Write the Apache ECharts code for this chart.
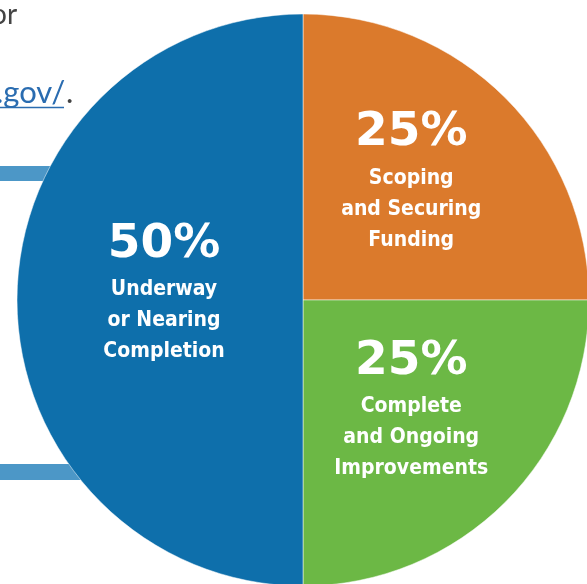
<!DOCTYPE html>
<html>
<head>
<meta charset="utf-8">
<script src="https://cdn.jsdelivr.net/npm/echarts@6/dist/echarts.min.js"></script>
<style>
  html, body { margin: 0; padding: 0; background: #fff; }
  #chart { width: 587px; height: 584px; }
</style>
</head>
<body>
<div id="chart"></div>
<script>
// status share of projects
const categories = ['Scoping and Securing Funding', 'Complete and Ongoing Improvements', 'Underway or Nearing Completion']
const labelLines = [
  ['Scoping', 'and Securing', 'Funding'],
  ['Complete', 'and Ongoing', 'Improvements'],
  ['Underway', 'or Nearing', 'Completion']
]
const values = [25, 25, 50]
const colors = ['#db7a2c', '#6cb845', '#0e6fab']
// nudge of each label block from the default inside spot
const labelShift = [[5, -17], [5, 5], [7, -9]]

const chart = echarts.init(document.getElementById('chart'))

const pieData = categories.map(function (name, i) {
  return {
    name: name,
    value: values[i],
    itemStyle: { color: colors[i] },
    label: {
      formatter: '{p|{d}%}\n' + labelLines[i].map(function (t) { return '{t|' + t + '}' }).join('\n')
    }
  }
})

chart.setOption({
  animation: false,
  // bits of the page around the chart
  graphic: [
    { type: 'rect', z: 0, shape: { x: 0, y: 166, width: 110, height: 15 }, style: { fill: '#4c97c7' } },
    { type: 'rect', z: 0, shape: { x: 0, y: 464, width: 110, height: 16 }, style: { fill: '#4c97c7' } },
    { type: 'text', z: 0, left: -9, top: 1, style: { text: 'or', fontSize: 28, fontFamily: 'Lato', fill: '#444' } },
    { type: 'text', z: 0, left: -4, top: 77, style: { text: '.gov/', fontSize: 31, fontFamily: 'Lato', fill: '#2a6cb0' } },
    { type: 'text', z: 0, left: 66, top: 77, style: { text: '.', fontSize: 31, fontFamily: 'Lato', fill: '#444' } },
    { type: 'line', z: 0, shape: { x1: 0, y1: 107.5, x2: 64, y2: 107.5 }, style: { stroke: '#2a6cb0', lineWidth: 1.5 } }
  ],
  series: [{
    type: 'pie',
    z: 5,
    center: [303, 300],
    radius: 286,
    startAngle: 90,
    clockwise: true,
    silent: true,
    itemStyle: { borderColor: '#fff', borderWidth: 0.5 },
    label: {
      show: true,
      position: 'inside',
      color: '#fff',
      align: 'center',
      rich: {
        p: { fontSize: 47, fontWeight: 'bold', fontFamily: 'DejaVu Sans', color: '#fff', lineHeight: 59 },
        t: { fontSize: 21, fontWeight: 'bold', fontFamily: 'DejaVu Sans Condensed', color: '#fff', lineHeight: 31 }
      }
    },
    labelLayout: function (params) {
      const s = labelShift[params.dataIndex]
      return { dx: s[0], dy: s[1] }
    },
    labelLine: { show: false },
    data: pieData
  }]
})
</script>
</body>
</html>
